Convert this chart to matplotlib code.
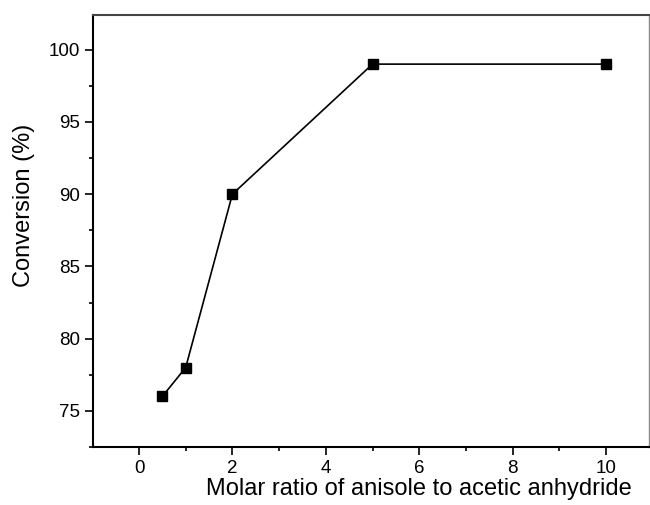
import numpy as np
import matplotlib.pyplot as plt
from matplotlib.ticker import MultipleLocator

plt.rcParams['font.family'] = ['Liberation Sans', 'DejaVu Sans']

ratio = [0.5, 1, 2, 5, 10]
conversion = [76, 78, 90, 99, 99]

fig = plt.figure(figsize=(6.5, 5.05), dpi=100)
# axes box in pixels: left 93, right 649, top 15, bottom 447
ax = fig.add_axes([93 / 650, 1 - 447 / 505, (649 - 93) / 650, (447 - 15) / 505])

ax.plot(ratio, conversion, color='black', linewidth=1.2, marker='s',
        markersize=7, markerfacecolor='black', markeredgecolor='black')

ax.set_xlim(-0.985, 10.92)
ax.set_ylim(72.5, 102.4)

ax.xaxis.set_major_locator(MultipleLocator(2))
ax.xaxis.set_minor_locator(MultipleLocator(1))
ax.yaxis.set_major_locator(MultipleLocator(5))
ax.yaxis.set_minor_locator(MultipleLocator(2.5))

ax.tick_params(which='both', direction='out', top=False, right=False,
               labelsize=13.5, width=1.2, colors='black')
ax.tick_params(which='major', length=5.5, pad=4)
ax.tick_params(which='minor', length=3)

for side in ['left', 'bottom']:
    ax.spines[side].set_linewidth(1.5)
ax.spines['top'].set_linewidth(1.5)
ax.spines['top'].set_color('#444444')
ax.spines['right'].set_linewidth(1.0)
ax.spines['right'].set_color('#888888')

ax.set_xlabel('Molar ratio of anisole to acetic anhydride', fontsize=17)
ax.set_ylabel('Conversion (%)', fontsize=17)
ax.xaxis.set_label_coords(0.586, -0.071)
ax.yaxis.set_label_coords(-0.105, 0.56)

fig.savefig('out.png', dpi=100)
